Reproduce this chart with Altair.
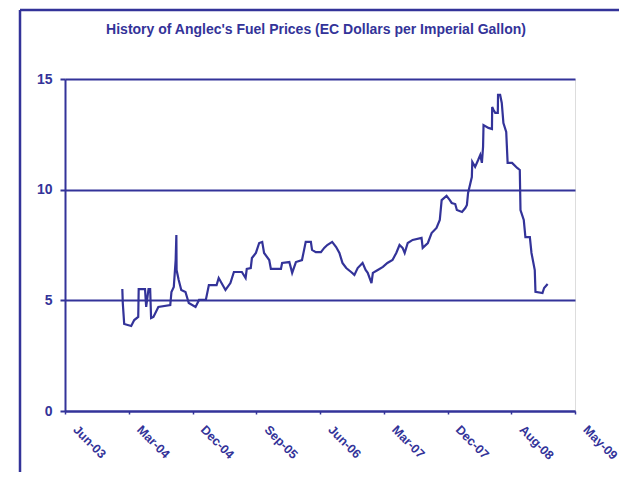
import altair as alt
import pandas as pd

# ---- data ----
dates = [
    "2004-02-10", "2004-02-12", "2004-02-16", "2004-02-18", "2004-03-19", "2004-04-01",
    "2004-04-18", "2004-04-20", "2004-05-17", "2004-05-22", "2004-06-01", "2004-06-08",
    "2004-06-12", "2004-06-22", "2004-07-13", "2004-09-02", "2004-09-07", "2004-09-17",
    "2004-09-25", "2004-09-28", "2004-09-29", "2004-10-08", "2004-10-19", "2004-11-06",
    "2004-11-20", "2004-12-19", "2005-01-03", "2005-02-01", "2005-02-14", "2005-03-19",
    "2005-03-28", "2005-04-26", "2005-05-17", "2005-06-01", "2005-07-05", "2005-07-21",
    "2005-07-26", "2005-08-12", "2005-08-17", "2005-09-03", "2005-09-17", "2005-09-30",
    "2005-10-08", "2005-10-30", "2005-11-06", "2005-12-19", "2005-12-24", "2006-01-24",
    "2006-02-05", "2006-02-21", "2006-03-19", "2006-03-28", "2006-04-04", "2006-04-26",
    "2006-05-01", "2006-05-17", "2006-06-08", "2006-06-22", "2006-07-05", "2006-07-26",
    "2006-08-12", "2006-08-26", "2006-09-08", "2006-09-24", "2006-10-15", "2006-10-29",
    "2006-11-12", "2006-12-03", "2006-12-16", "2006-12-25", "2007-01-10", "2007-01-16",
    "2007-02-06", "2007-02-28", "2007-03-19", "2007-04-10", "2007-04-26", "2007-05-10",
    "2007-05-23", "2007-06-01", "2007-06-14", "2007-07-05", "2007-08-12", "2007-08-17",
    "2007-09-08", "2007-09-24", "2007-10-15", "2007-10-29", "2007-11-06", "2007-11-27",
    "2007-12-11", "2007-12-19", "2008-01-03", "2008-01-10", "2008-02-01", "2008-02-15",
    "2008-02-22", "2008-02-27", "2008-03-14", "2008-03-16", "2008-03-28", "2008-04-10",
    "2008-04-19", "2008-04-26", "2008-05-01", "2008-05-03", "2008-05-24", "2008-06-08",
    "2008-06-09", "2008-06-15", "2008-06-22", "2008-07-03", "2008-07-04", "2008-07-13",
    "2008-07-20", "2008-07-27", "2008-08-08", "2008-08-14", "2008-09-02", "2008-09-24",
    "2008-10-05", "2008-10-08", "2008-10-22", "2008-10-29", "2008-11-17", "2008-11-24",
    "2008-12-08", "2008-12-11", "2009-01-10", "2009-01-17", "2009-02-01",
]
prices = [
    5.51, 4.88, 4.25, 3.93, 3.84, 4.11,
    4.25, 5.51, 5.51, 4.70, 5.51, 5.51,
    4.20, 4.25, 4.70, 4.79, 5.38, 5.60,
    6.82, 7.95, 6.37, 5.92, 5.47, 5.38,
    4.88, 4.70, 5.02, 5.02, 5.69, 5.69,
    6.01, 5.47, 5.78, 6.28, 6.28, 6.01,
    6.42, 6.46, 6.91, 7.14, 7.59, 7.64,
    7.14, 6.82, 6.42, 6.42, 6.69, 6.73,
    6.24, 6.73, 6.82, 7.28, 7.64, 7.64,
    7.28, 7.18, 7.18, 7.37, 7.50, 7.64,
    7.41, 7.14, 6.69, 6.46, 6.28, 6.15,
    6.46, 6.69, 6.37, 6.24, 5.78, 6.24,
    6.37, 6.51, 6.69, 6.82, 7.14, 7.50,
    7.37, 7.14, 7.59, 7.73, 7.82, 7.37,
    7.59, 8.04, 8.27, 8.63, 9.53, 9.72,
    9.53, 9.40, 9.35, 9.08, 8.99, 9.17,
    9.31, 9.85, 10.57, 11.25, 11.03, 11.34,
    11.57, 11.21, 11.93, 12.92, 12.79, 12.74,
    13.74, 13.60, 13.47, 13.47, 14.28, 14.28,
    13.92, 13.01, 12.61, 11.21, 11.21, 10.98,
    10.89, 9.08, 8.63, 7.86, 7.86, 7.14,
    6.37, 5.38, 5.33, 5.56, 5.74,
]
y_ticks = [0, 5, 10, 15]
title_text = "History of Anglec's Fuel Prices (EC Dollars per Imperial Gallon)"

# x-axis ticks: equally spaced date ticks (Jun-03 ... May-09)
tick_start = pd.Timestamp("2003-06-10")
tick_step_days = 272.5
tick_dates = [tick_start + pd.Timedelta(days=tick_step_days * k) for k in range(9)]
tick_ms = [int(t.value // 10**6) for t in tick_dates]

NAVY = "#333399"
FONT = "Liberation Sans"

df = pd.DataFrame({"date": dates, "price": prices})

line = alt.Chart(df).mark_line(color=NAVY, strokeWidth=2.2).encode(
    x=alt.X(
        "date:T",
        title=None,
        scale=alt.Scale(domain=[tick_ms[0], tick_ms[-1]]),
        axis=alt.Axis(
            values=tick_ms,
            format="%b-%y",
            labelAngle=45,
            labelAlign="left",
            labelBaseline="top",
            labelFont=FONT,
            labelFontSize=12.5,
            labelFontWeight="bold",
            labelColor=NAVY,
            labelPadding=9,
            labelOffset=14,
            labelOverlap=False,
            labelBound=False,
            labelFlush=False,
            domainColor=NAVY,
            domainWidth=2,
            tickColor=NAVY,
            tickWidth=1.5,
            tickSize=3,
            grid=False,
        ),
    ),
    y=alt.Y(
        "price:Q",
        title=None,
        scale=alt.Scale(domain=[0, 15], nice=False),
        axis=alt.Axis(
            values=y_ticks,
            labelFont=FONT,
            labelFontSize=14,
            labelFontWeight="bold",
            labelColor=NAVY,
            labelPadding=8,
            domainColor=NAVY,
            domainWidth=2,
            tickColor=NAVY,
            tickWidth=2,
            tickSize=5,
            grid=True,
            gridColor=NAVY,
            gridWidth=2,
            gridOpacity=1,
        ),
    ),
)

title_df = pd.DataFrame({"t": [title_text]})
title = alt.Chart(title_df).mark_text(
    font=FONT, fontSize=14, fontWeight="bold", color=NAVY,
    align="center", baseline="alphabetic",
).encode(text="t:N", x=alt.value(251), y=alt.value(-45))

# outer chart-area frame (left and top edges visible)
frame_left = alt.Chart().mark_rule(color=NAVY, strokeWidth=2.5).encode(
    x=alt.value(-45), y=alt.value(-69), y2=alt.value(500)
)
frame_top = alt.Chart().mark_rule(color=NAVY, strokeWidth=2.5).encode(
    x=alt.value(-45), x2=alt.value(700), y=alt.value(-69)
)

chart = (
    alt.layer(line, title, frame_left, frame_top)
    .properties(
        width=510,
        height=332,
        autosize=alt.AutoSizeParams(type="none"),
        padding={"left": 57, "top": 71, "right": 44, "bottom": 61},
    )
    .configure_view(stroke=None)
    .configure(background="white")
)

chart.save("out.html", embed_options={"renderer": "svg", "actions": False})
